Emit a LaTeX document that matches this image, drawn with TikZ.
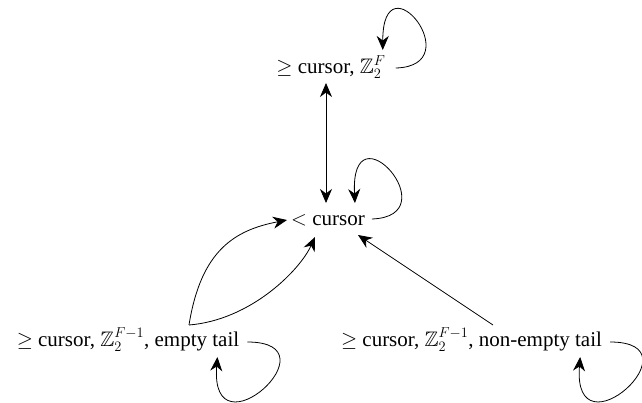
\documentclass[tikz,border=0pt]{standalone}
\usepackage{amssymb}
\usepackage{fontspec}
\setmainfont{Liberation Serif}
\DeclareMathSizes{21}{21}{15.5}{11}
\usetikzlibrary{arrows.meta,calc}
\begin{document}
\begin{tikzpicture}[x=1pt,y=-1pt,
  lbl/.style={inner sep=0pt,anchor=base,font=\fontsize{21}{25}\selectfont},
  edge/.style={line width=0.8pt},
  tip/.style={-{Stealth[length=14pt,width=12pt,inset=4.5pt]}},
  dtip/.style={{Stealth[length=14pt,width=12pt,inset=4.5pt]}-{Stealth[length=14pt,width=12pt,inset=4.5pt]}}]
\useasboundingbox (0,0) rectangle (642,402);
\node[lbl] (T) at (331,73) {$\geq$ cursor, $\mathbb{Z}_2^F$};
\node[lbl] (M) at (328,225) {$<$ cursor};
\node[lbl] (L) at (128,346) {$\geq$ cursor, $\mathbb{Z}_2^{F-1}$, empty tail};
\node[lbl] (R) at (471.5,346) {$\geq$ cursor, $\mathbb{Z}_2^{F-1}$, non-empty tail};
% T <-> M
\coordinate (tb) at ($(T.base)+(-5,10)$);
\coordinate (mt) at ($(M.base)+(-2,-22)$);
\draw[edge,dtip] (tb) -- (mt);
% top loop
\coordinate (ts) at ($(T.base east)+(10,-5)$);
\coordinate (te) at ($(T.base east)+(-3,-23)$);
\draw[edge,tip] (ts) .. controls +(75,-2) and +(0,-95) .. (te);
% mid loop
\coordinate (ms) at ($(M.base east)+(7,-6)$);
\coordinate (me) at ($(M.base east)+(-10,-22)$);
\draw[edge,tip] (ms) .. controls +(78,-3) and +(-5,-100) .. (me);
% bottom-left loop
\coordinate (ls) at ($(L.base east)+(8,-4)$);
\coordinate (le) at ($(L.base east)+(-22,11)$);
\draw[edge,tip] (ls) .. controls +(91,0) and +(-8,102) .. (le);
% bottom-right loop
\coordinate (rs) at ($(R.base east)+(8,-4)$);
\coordinate (re) at ($(R.base east)+(-22,11)$);
\draw[edge,tip] (rs) .. controls +(91,0) and +(-8,102) .. (re);
% L -> M two curves
\coordinate (lt) at ($(L.base)+(61,-21)$);
\coordinate (ma) at ($(M.base)+(-41,-5)$);
\coordinate (mb) at ($(M.base)+(-13,12)$);
\draw[edge,tip] (lt) .. controls +(12,-75) and +(-52,10) .. (ma);
\draw[edge,tip] (lt) .. controls +(62,-5) and +(-15,33) .. (mb);
% R -> M straight
\coordinate (rt) at ($(R.base)+(21.5,-21)$);
\coordinate (mc) at ($(M.base)+(30,10)$);
\draw[edge,tip] (rt) -- (mc);
\end{tikzpicture}
\end{document}
